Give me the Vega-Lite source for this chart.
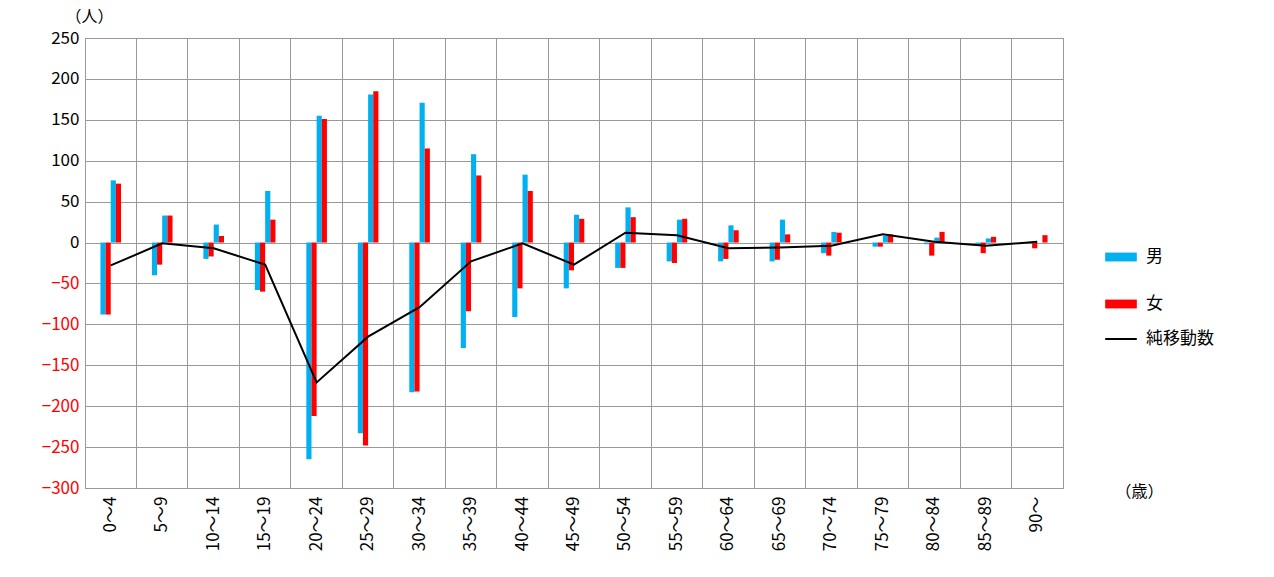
{
"$schema":"https://vega.github.io/schema/vega-lite/v6.json",
"width":978,"height":450,"autosize":"none",
"padding":{"left":85,"top":38,"right":211,"bottom":89},
"config":{"font":"Noto Sans CJK JP","view":{"stroke":"#999"},"axis":{"labelFontSize":17,"gridColor":"#999","domainColor":"#999","tickColor":"#999","labelColor":"black"}},
"datasets":{
"bars":[
{"c":"0～4","k":"a","s":"男","v":-88},{"c":"0～4","k":"b","s":"女","v":-88},{"c":"0～4","k":"c","s":"男","v":76},{"c":"0～4","k":"d","s":"女","v":72},
{"c":"5～9","k":"a","s":"男","v":-40},{"c":"5～9","k":"b","s":"女","v":-27},{"c":"5～9","k":"c","s":"男","v":33},{"c":"5～9","k":"d","s":"女","v":33},
{"c":"10～14","k":"a","s":"男","v":-20},{"c":"10～14","k":"b","s":"女","v":-17},{"c":"10～14","k":"c","s":"男","v":22},{"c":"10～14","k":"d","s":"女","v":8},
{"c":"15～19","k":"a","s":"男","v":-58},{"c":"15～19","k":"b","s":"女","v":-60},{"c":"15～19","k":"c","s":"男","v":63},{"c":"15～19","k":"d","s":"女","v":28},
{"c":"20～24","k":"a","s":"男","v":-265},{"c":"20～24","k":"b","s":"女","v":-212},{"c":"20～24","k":"c","s":"男","v":155},{"c":"20～24","k":"d","s":"女","v":151},
{"c":"25～29","k":"a","s":"男","v":-233},{"c":"25～29","k":"b","s":"女","v":-248},{"c":"25～29","k":"c","s":"男","v":181},{"c":"25～29","k":"d","s":"女","v":185},
{"c":"30～34","k":"a","s":"男","v":-183},{"c":"30～34","k":"b","s":"女","v":-182},{"c":"30～34","k":"c","s":"男","v":171},{"c":"30～34","k":"d","s":"女","v":115},
{"c":"35～39","k":"a","s":"男","v":-129},{"c":"35～39","k":"b","s":"女","v":-84},{"c":"35～39","k":"c","s":"男","v":108},{"c":"35～39","k":"d","s":"女","v":82},
{"c":"40～44","k":"a","s":"男","v":-91},{"c":"40～44","k":"b","s":"女","v":-56},{"c":"40～44","k":"c","s":"男","v":83},{"c":"40～44","k":"d","s":"女","v":63},
{"c":"45～49","k":"a","s":"男","v":-56},{"c":"45～49","k":"b","s":"女","v":-34},{"c":"45～49","k":"c","s":"男","v":34},{"c":"45～49","k":"d","s":"女","v":29},
{"c":"50～54","k":"a","s":"男","v":-31},{"c":"50～54","k":"b","s":"女","v":-31},{"c":"50～54","k":"c","s":"男","v":43},{"c":"50～54","k":"d","s":"女","v":31},
{"c":"55～59","k":"a","s":"男","v":-23},{"c":"55～59","k":"b","s":"女","v":-25},{"c":"55～59","k":"c","s":"男","v":28},{"c":"55～59","k":"d","s":"女","v":29},
{"c":"60～64","k":"a","s":"男","v":-23},{"c":"60～64","k":"b","s":"女","v":-20},{"c":"60～64","k":"c","s":"男","v":21},{"c":"60～64","k":"d","s":"女","v":15},
{"c":"65～69","k":"a","s":"男","v":-23},{"c":"65～69","k":"b","s":"女","v":-21},{"c":"65～69","k":"c","s":"男","v":28},{"c":"65～69","k":"d","s":"女","v":10},
{"c":"70～74","k":"a","s":"男","v":-13},{"c":"70～74","k":"b","s":"女","v":-16},{"c":"70～74","k":"c","s":"男","v":13},{"c":"70～74","k":"d","s":"女","v":12},
{"c":"75～79","k":"a","s":"男","v":-5},{"c":"75～79","k":"b","s":"女","v":-5},{"c":"75～79","k":"c","s":"男","v":8},{"c":"75～79","k":"d","s":"女","v":10},
{"c":"80～84","k":"a","s":"男","v":-2},{"c":"80～84","k":"b","s":"女","v":-16},{"c":"80～84","k":"c","s":"男","v":6},{"c":"80～84","k":"d","s":"女","v":13},
{"c":"85～89","k":"a","s":"男","v":-3},{"c":"85～89","k":"b","s":"女","v":-13},{"c":"85～89","k":"c","s":"男","v":5},{"c":"85～89","k":"d","s":"女","v":7},
{"c":"90～","k":"a","s":"男","v":0},{"c":"90～","k":"b","s":"女","v":-7},{"c":"90～","k":"c","s":"男","v":0},{"c":"90～","k":"d","s":"女","v":9}
],
"net":[
{"c":"0～4","n":-28,"t":"純移動数"},{"c":"5～9","n":-1,"t":"純移動数"},{"c":"10～14","n":-7,"t":"純移動数"},{"c":"15～19","n":-27,"t":"純移動数"},{"c":"20～24","n":-171,"t":"純移動数"},{"c":"25～29","n":-115,"t":"純移動数"},{"c":"30～34","n":-79,"t":"純移動数"},{"c":"35～39","n":-23,"t":"純移動数"},{"c":"40～44","n":-1,"t":"純移動数"},{"c":"45～49","n":-27,"t":"純移動数"},{"c":"50～54","n":12,"t":"純移動数"},{"c":"55～59","n":9,"t":"純移動数"},{"c":"60～64","n":-7,"t":"純移動数"},{"c":"65～69","n":-6,"t":"純移動数"},{"c":"70～74","n":-4,"t":"純移動数"},{"c":"75～79","n":10,"t":"純移動数"},{"c":"80～84","n":1,"t":"純移動数"},{"c":"85～89","n":-4,"t":"純移動数"},{"c":"90～","n":1,"t":"純移動数"}
]},
"layer":[
{"data":{"name":"bars"},"mark":{"type":"bar"},
"encoding":{
"x":{"field":"c","type":"nominal","sort":null,"scale":{"paddingInner":0.6,"paddingOuter":0.3},
"axis":{"title":"（歳）","titleAngle":0,"titleX":1030,"titleY":-5,"titleAlign":"left","titleFontWeight":"normal","titleFontSize":16,"labelAngle":-90,"grid":true,"gridColor":"#999","bandPosition":-0.75,"ticks":false,"labelPadding":8}},
"xOffset":{"field":"k","type":"nominal","scale":{"paddingInner":0,"paddingOuter":0}},
"y":{"field":"v","type":"quantitative","scale":{"domain":[-300,250]},
"axis":{"values":[-300,-250,-200,-150,-100,-50,0,50,100,150,200,250],"title":"（人）","titleAngle":0,"titleX":-20,"titleY":-14,"titleAlign":"left","titleFontWeight":"normal","titleFontSize":16,"ticks":false,"domain":false,"labelPadding":6,
"labelColor":{"condition":{"test":"datum.value<0","value":"red"},"value":"black"}}},
"color":{"field":"s","type":"nominal","scale":{"domain":["男","女"],"range":["#00B0F0","#FF0000"]},
"legend":{"title":null,"orient":"none","legendX":1019,"legendY":202,"labelFontSize":17,"symbolType":"M-1,-0.28H1V0.28H-1Z","symbolSize":1000,"rowPadding":22,"labelColor":"black","labelOffset":8}}
}},
{"data":{"name":"net"},"mark":{"type":"line","color":"black","strokeWidth":2},
"encoding":{
"x":{"field":"c","type":"nominal","sort":null},
"y":{"field":"n","type":"quantitative"},
"stroke":{"field":"t","type":"nominal","scale":{"range":["black"]},
"legend":{"title":null,"orient":"none","legendX":1019,"legendY":284,"labelFontSize":17,"symbolType":"stroke","symbolStrokeWidth":2,"symbolSize":1000,"labelColor":"black","labelOffset":8}}
}}
]}
